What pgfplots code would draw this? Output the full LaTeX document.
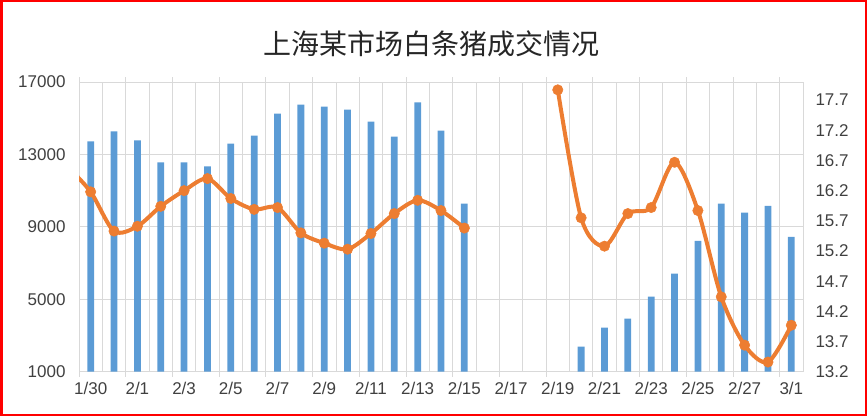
\documentclass[border=0pt]{standalone}
\usepackage{fontspec}
\setmainfont{Liberation Sans}
\newfontfamily\cjk{Noto Sans CJK SC}
\usepackage{pgfplots}
\pgfplotsset{compat=1.18}

\definecolor{barblue}{HTML}{5B9BD5}
\definecolor{lineorange}{HTML}{ED7D31}
\definecolor{gridgray}{HTML}{D9D9D9}
\definecolor{labelgray}{HTML}{404040}

% shared geometry of both axes (1pt ~ 1px of the reference)
\pgfplotsset{
    common/.style={
        at={(79pt,44.3pt)},
        anchor=south west,
        scale only axis,
        width=724pt,
        height=289.7pt,
        xmin=-0.5, xmax=30.5,
        enlargelimits=false,
        scaled y ticks=false,
        ticklabel style={font=\fontsize{17}{17}\selectfont, text=labelgray},
        major tick length=0pt,
        minor tick length=0pt,
    }
}

\begin{document}
\begin{tikzpicture}
\useasboundingbox (0,0) rectangle (867pt,416pt);

% volume (left axis), categories 1/30 = 0 ... 3/1 = 30
\begin{axis}[
    common,
    ymin=1000, ymax=17000,
    ytick={1000,5000,9000,13000,17000},
    yticklabels={1000,5000,9000,13000,17000},
    yticklabel style={xshift=-10pt},
    xtick={0,2,...,30},
    xticklabels={1/30,2/1,2/3,2/5,2/7,2/9,2/11,2/13,2/15,2/17,2/19,2/21,2/23,2/25,2/27,3/1},
    xticklabel style={yshift=-7pt},
    minor xtick={-0.5,0.5,...,30.5},
    ymajorgrids, xminorgrids,
    grid style={gridgray, line width=0.8pt},
    axis line style={gridgray, line width=0.8pt},
    extra x ticks={-0.5,1.5,...,29.5},
    extra x tick labels={},
    extra x tick style={grid=none, major tick length=5pt, tick align=outside,
        tick style={draw=gridgray, line width=0.8pt}},
    ybar,
    bar width=0.29,
]
\addplot[fill=barblue, draw=none] coordinates {
    (0,13720) (1,14270) (2,13780) (3,12560) (4,12560) (5,12340)
    (6,13590) (7,14040) (8,15250) (9,15750) (10,15640) (11,15470)
    (12,14810) (13,13980) (14,15880) (15,14310) (16,10280)
    (21,2380) (22,3430) (23,3930) (24,5150) (25,6420) (26,8230)
    (27,10280) (28,9780) (29,10160) (30,8450)
};
\end{axis}

% price (right axis)
\begin{axis}[
    common,
    axis x line=none,
    axis y line*=right,
    axis line style={draw=none},
    ymin=13.2, ymax=18.0,
    ytick={13.2,13.7,14.2,14.7,15.2,15.7,16.2,16.7,17.2,17.7},
    yticklabels={13.2,13.7,14.2,14.7,15.2,15.7,16.2,16.7,17.2,17.7},
    yticklabel style={xshift=9pt},
]
% first run; the point before 1/30 is clipped by the axis
\addplot[lineorange, line width=4pt, smooth, tension=0.5, no markers] coordinates {
    (-1,16.60) (0,16.18) (1,15.53) (2,15.61) (3,15.94) (4,16.20) (5,16.40)
    (6,16.07) (7,15.89) (8,15.92) (9,15.50) (10,15.33) (11,15.23)
    (12,15.49) (13,15.82) (14,16.04) (15,15.87) (16,15.58)
};
\addplot[only marks, mark=*, mark size=5.2pt, lineorange,
    mark options={fill=lineorange, line width=0.5pt}] coordinates {
    (0,16.18) (1,15.53) (2,15.61) (3,15.94) (4,16.20) (5,16.40)
    (6,16.07) (7,15.89) (8,15.92) (9,15.50) (10,15.33) (11,15.23)
    (12,15.49) (13,15.82) (14,16.04) (15,15.87) (16,15.58)
};
% second run after the gap
\addplot[lineorange, line width=4pt, smooth, tension=0.5, mark=*, mark size=5.2pt,
    mark options={solid, fill=lineorange, line width=0.5pt}] coordinates {
    (20,17.87) (21,15.75) (22,15.28) (23,15.82) (24,15.92) (25,16.67)
    (26,15.87) (27,14.44) (28,13.64) (29,13.36) (30,13.97)
};
\end{axis}

% title
\node[font=\cjk\fontsize{28}{28}\selectfont, text=black!85] at (431.7pt,372.5pt)
    {上海某市场白条猪成交情况};

% frame
\draw[red, line width=2.5pt] (1.25pt,1.25pt) rectangle (865.75pt,414.75pt);
\end{tikzpicture}
\end{document}
